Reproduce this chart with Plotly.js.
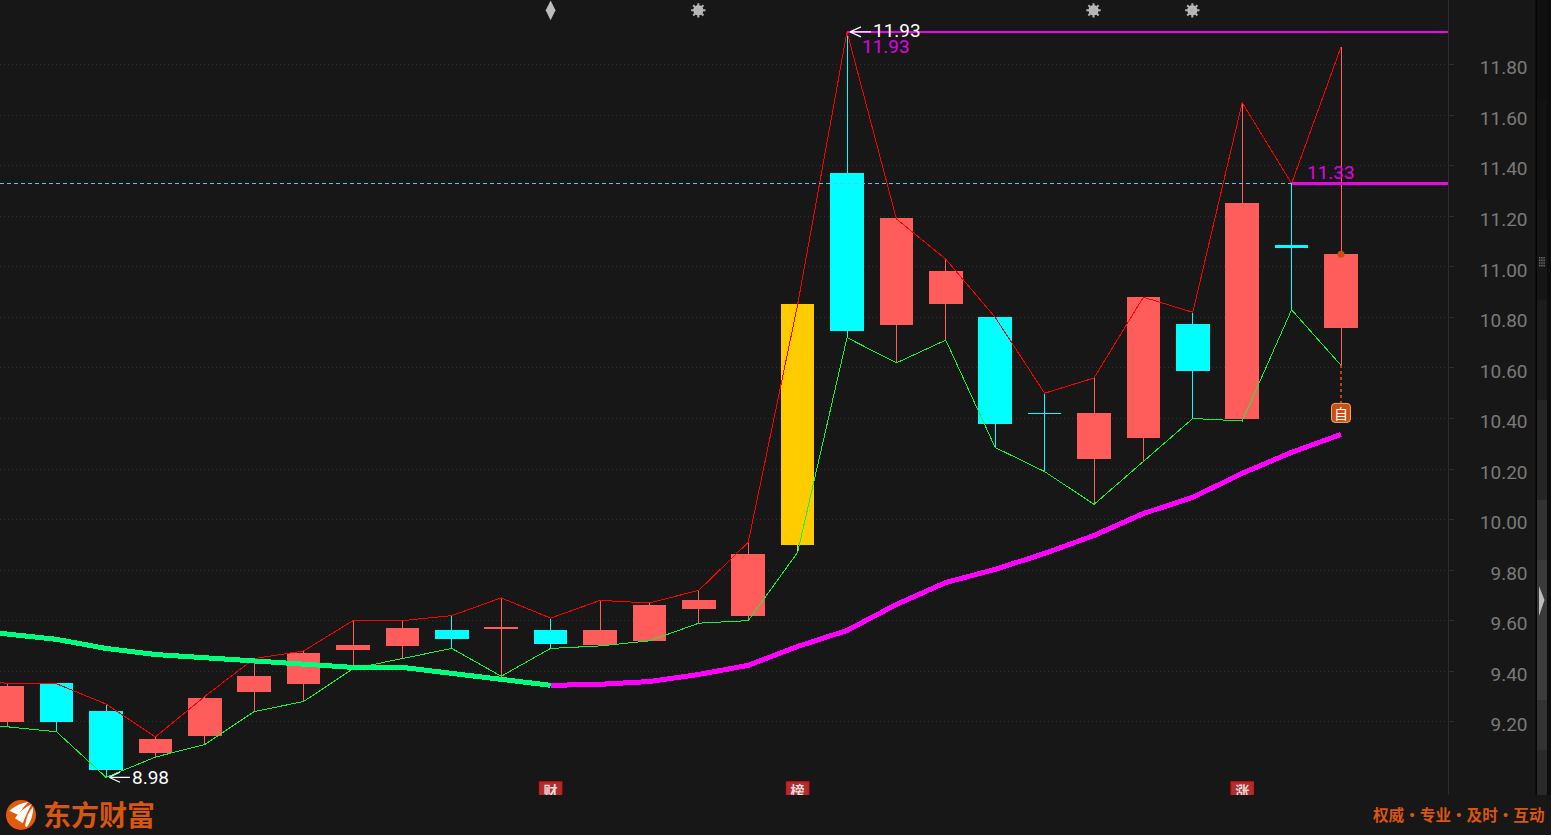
<!DOCTYPE html>
<html><head><meta charset="utf-8">
<script src="https://cdn.plot.ly/plotly-3.0.1.min.js"></script>
<style>html,body{margin:0;padding:0;background:#171717;overflow:hidden}#c{width:1551px;height:835px}
#c .boxlayer path,#c .scatterlayer .js-line{shape-rendering:crispEdges}</style>
</head><body><div id="c"></div>
<script>
// ---- data ----
const idx   = [0,1,2,3,4,5,6,7,8,9,10,11,12,13,14,15,16,17,18,19,20,21,22,23,24,25,26,27];
const open  = [9.20,9.35,9.24,9.08,9.145,9.32,9.35,9.485,9.50,9.56,9.569,9.56,9.505,9.52,9.65,9.62,9.90,11.37,10.77,10.855,10.80,10.421,10.24,10.325,10.77,10.40,11.085,10.76];
const close = [9.34,9.20,9.01,9.13,9.29,9.38,9.47,9.50,9.57,9.53,9.571,9.51,9.56,9.66,9.68,9.86,10.85,10.75,11.19,10.98,10.38,10.419,10.42,10.88,10.59,11.25,11.075,11.05];
const high  = [9.35,9.35,9.27,9.14,9.30,9.45,9.48,9.60,9.60,9.62,9.69,9.61,9.68,9.67,9.72,9.91,10.85,11.93,11.19,11.03,10.80,10.50,10.56,10.88,10.82,11.65,11.33,11.87];
const low   = [9.18,9.16,8.98,9.06,9.11,9.24,9.28,9.41,9.45,9.49,9.38,9.49,9.50,9.52,9.59,9.60,9.87,10.72,10.62,10.71,10.285,10.19,10.06,10.23,10.40,10.39,10.83,10.61];
const limitUpIndex = 16;
const maValues = [9.547,9.526,9.49,9.466,9.454,9.439,9.431,9.415,9.415,9.391,9.367,9.344,9.348,9.359,9.387,9.423,9.498,9.561,9.664,9.751,9.803,9.866,9.937,10.024,10.088,10.183,10.266,10.337];
const maSplitIndex = 11;
const prevIdx = -1, prevHigh = 9.40, prevLow = 9.185, prevMa = 9.56;
const tickVals = [9.2,9.4,9.6,9.8,10,10.2,10.4,10.6,10.8,11,11.2,11.4,11.6,11.8];
const tickText = ['\u20079.20','\u20079.40','\u20079.60','\u20079.80','10.00','10.20','10.40','10.60','10.80','11.00','11.20','11.40','11.60','11.80'];
const peakIndex = 17, peakValue = 11.93, lastHighIndex = 26, lastHighValue = 11.33, lowIndex = 2, lowValue = 8.98;
const gearIdx = [13.99,21.99,23.99], gearY = [12.015,12.015,12.015];
const arrowIdx = [11], arrowY = [12.015];
const badgeIdx = [11,16,25], badgeTxt = ['财','榜','涨'], badgeY = [8.918,8.918,8.918];
const lastCloseIdx = 27, lastCloseDot = 11.05, selfTagY = 10.422, selfTagFrom = 10.61, selfTagTo = 10.46;

// ---- colours ----
const BG='#171717', RED='#ff5c5c', CYAN='#00ffff', YEL='#ffcc00', MAG='#ff00ff', MAGL='#f000f0', GRN='#00ff7f', ORG='#d9560f', FONT='Roboto, "Noto Sans", sans-serif';

// ---- layout helpers (pixel chrome only) ----
const PLOT_W=1448, PLOT_H=795;
const rect=(x0,y0,x1,y1,fill)=>({type:'rect',xref:'paper',yref:'paper',x0:x0/PLOT_W,x1:x1/PLOT_W,y0:(PLOT_H-y0)/PLOT_H,y1:(PLOT_H-y1)/PLOT_H,fillcolor:fill,line:{width:0},layer:'above'});
const P=(x,y)=>`${x},${PLOT_H-y}`;
const pixPath=(path,fill,lw,lc)=>({type:'path',xref:'paper',yref:'paper',xsizemode:'pixel',ysizemode:'pixel',xanchor:0,yanchor:0,path,fillcolor:fill,line:{width:lw||0,color:lc||fill},layer:'above'});
const dataArrow=(i,v)=>({type:'path',xref:'x',yref:'y',xsizemode:'pixel',ysizemode:'pixel',xanchor:i,yanchor:v,path:'M3,0L24,0M3,0L14,5M3,0L14,-5',line:{width:1.2,color:'#ffffff'},layer:'above'});

const shapes=[];
// right hand chrome
const grad=[['0','#101010'],[100,'#121212'],[200,'#161616'],[300,'#1c1c1c'],[400,'#262626'],[500,'#323232'],[560,'#3a3a3a'],[640,'#3c3c3c'],[700,'#333333'],[750,'#2a2a2a']];
shapes.push(rect(1535.5,0,1537,795,'#050505'));
grad.forEach((g,k)=>{const y0=+g[0],y1=k<grad.length-1?+grad[k+1][0]:795;shapes.push(rect(1537,y0,1547,y1,g[1]));});
shapes.push(rect(1547,0,1551,795,'#0d0d0d'));
shapes.push(pixPath(`M${P(1539,586)}L${P(1544.5,600)}L${P(1539,616)}Z`,'#bdbdbd'));
for(let c=0;c<3;c++)for(let r=0;r<4;r++)shapes.push(rect(1539+c*2.2,257+r*2.6,1540.4+c*2.2,258.6+r*2.6,'#6e6e6e'));
// logo
shapes.push({type:'circle',xref:'paper',yref:'paper',x0:6/PLOT_W,x1:36/PLOT_W,y0:(PLOT_H-830)/PLOT_H,y1:(PLOT_H-800)/PLOT_H,fillcolor:'#e5590b',line:{width:0},layer:'above'});
const Z=(x,y)=>P((x/3).toFixed(1),(790+y/3).toFixed(1));
shapes.push(pixPath(`M${Z(28,62)}Q${Z(55,40)} ${Z(85,36)}Q${Z(70,50)} ${Z(55,75)}Z`,'#fff'));
shapes.push(pixPath(`M${Z(45,85)}Q${Z(60,60)} ${Z(95,42)}Q${Z(82,65)} ${Z(68,100)}Z`,'#fff'));
shapes.push(pixPath(`M${Z(75,108)}Q${Z(80,70)} ${Z(100,50)}Q${Z(100,85)} ${Z(80,112)}Z`,'#fff'));
// arrows to extreme values
shapes.push(dataArrow(peakIndex,peakValue));
shapes.push(dataArrow(lowIndex,lowValue));
// 自 tag
shapes.push({type:'path',xref:'x',yref:'y',xsizemode:'pixel',ysizemode:'pixel',xanchor:lastCloseIdx,yanchor:selfTagY,
  path:'M-6,9.5L6,9.5Q9.5,9.5 9.5,6L9.5,-6Q9.5,-9.5 6,-9.5L-6,-9.5Q-9.5,-9.5 -9.5,-6L-9.5,6Q-9.5,9.5 -6,9.5Z',fillcolor:'#c9500f',line:{width:1,color:'#f0a878'},layer:'above'});

const candle=(ids,inc,dec)=>({type:'candlestick',x:ids.map(i=>idx[i]),open:ids.map(i=>open[i]),high:ids.map(i=>high[i]),low:ids.map(i=>low[i]),close:ids.map(i=>close[i]),
  increasing:{line:{color:inc,width:1},fillcolor:inc},decreasing:{line:{color:dec,width:1},fillcolor:dec},whiskerwidth:0,hoverinfo:'skip',showlegend:false});
const mainIds=idx.filter(i=>i!==limitUpIndex);
const line=(x,y,color,width,dash)=>({type:'scatter',mode:'lines',x,y,line:{color,width,dash:dash||'solid',shape:'linear'},hoverinfo:'skip',showlegend:false});

const data=[
  candle(mainIds,RED,CYAN),
  candle([limitUpIndex],YEL,YEL),
  line([prevIdx].concat(idx),[prevHigh].concat(high),'#ff0000',1),
  line([prevIdx].concat(idx),[prevLow].concat(low),'#14f03c',1),
  line([prevIdx].concat(idx.slice(0,maSplitIndex+1)),[prevMa].concat(maValues.slice(0,maSplitIndex+1)),GRN,5),
  line(idx.slice(maSplitIndex),maValues.slice(maSplitIndex),MAG,5),
  line([-1,30],[lastHighValue,lastHighValue],'#58c6f0',1,'4px,3px'),
  line([peakIndex,30],[peakValue,peakValue],MAGL,2.4),
  line([lastHighIndex,30],[lastHighValue,lastHighValue],MAGL,2.4),
  line([lastCloseIdx,lastCloseIdx],[selfTagFrom,selfTagTo],'#b84a10',1.5,'3px,3px'),
  {type:'scatter',mode:'markers',x:[lastCloseIdx],y:[lastCloseDot],marker:{symbol:'circle',size:7,color:'#c8500f'},hoverinfo:'skip',showlegend:false},
  {type:'scatter',mode:'markers',x:gearIdx,y:gearY,marker:{symbol:'circle',size:10,color:'#c4c4c4'},cliponaxis:false,hoverinfo:'skip',showlegend:false},
  {type:'scatter',mode:'markers',x:gearIdx,y:gearY,marker:{symbol:'asterisk-open',size:12,color:'#b4b4b4',line:{color:'#b4b4b4',width:2}},cliponaxis:false,hoverinfo:'skip',showlegend:false},
  {type:'scatter',mode:'markers',x:arrowIdx,y:arrowY,marker:{symbol:'diamond-tall',size:14,color:'#bdbdbd'},cliponaxis:false,hoverinfo:'skip',showlegend:false},
  {type:'scatter',mode:'markers+text',x:badgeIdx,y:badgeY,text:badgeTxt,textposition:'middle center',textfont:{family:'"Noto Sans CJK SC"',size:14,color:'#eed8d8',weight:700},
    marker:{symbol:'square',size:22,color:'#a83232',line:{color:'#e01010',width:1.5}},cliponaxis:true,hoverinfo:'skip',showlegend:false}
];

const note=(text,x,y,color,xs,ys,size)=>({text,x,y,xref:'x',yref:'y',xanchor:'left',yanchor:'middle',showarrow:false,xshift:xs,yshift:ys,font:{family:FONT,size:size||19,color}});
const paperNote=(text,px,py,xa,size)=>({text,xref:'paper',yref:'paper',x:px/PLOT_W,y:(PLOT_H-py)/PLOT_H,xanchor:xa,yanchor:'middle',showarrow:false,font:{family:'"Noto Sans CJK SC"',size,color:ORG,weight:700}});
const annotations=[
  note(peakValue.toFixed(2),peakIndex,peakValue,'#ffffff',24,1),
  note(peakValue.toFixed(2),peakIndex,peakValue,'#e000e6',13,-15),
  note(lastHighValue.toFixed(2),lastHighIndex,lastHighValue,'#e000e6',13,11),
  note(lowValue.toFixed(2),lowIndex,lowValue,'#ffffff',24,0),
  {text:'自',x:lastCloseIdx,y:selfTagY,xref:'x',yref:'y',xanchor:'center',yanchor:'middle',showarrow:false,font:{family:'"Noto Sans CJK SC"',size:14,color:'#ffffff'}},
  paperNote('东方财富',41,814,'left',28),
  paperNote('权威·专业·及时·互动',1547,814,'right',15.6)
];

const layout={
  width:1551,height:835,autosize:false,margin:{l:0,r:103,t:0,b:40,pad:0},
  paper_bgcolor:BG,plot_bgcolor:BG,showlegend:false,boxgap:0.34,boxgroupgap:0,boxmode:'overlay',hovermode:false,
  xaxis:{type:'linear',range:[-0.146,29.166],showgrid:false,zeroline:false,showticklabels:false,ticks:'',showline:false,rangeslider:{visible:false},fixedrange:true},
  yaxis:{type:'linear',side:'right',range:[8.910,12.056],tickmode:'array',tickvals:tickVals,ticktext:tickText,ticks:'outside',ticklen:5,tickcolor:'#2c2c2c',tickwidth:1,
    ticklabelstandoff:22,ticklabelshift:3,tickfont:{family:FONT,size:19,color:'#7a7a7a'},showgrid:true,gridcolor:'#303030',griddash:'1px,3px',gridwidth:1,zeroline:false,showline:true,linecolor:'#2c2c2c',linewidth:1,fixedrange:true},
  shapes,annotations
};
Plotly.newPlot('c',data,layout,{displayModeBar:false,staticPlot:true});
</script></body></html>
